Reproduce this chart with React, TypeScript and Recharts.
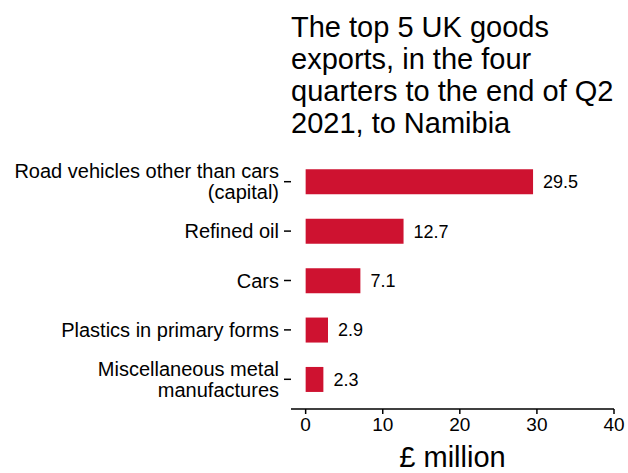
import React from 'react';
import { BarChart, Bar, XAxis, YAxis, LabelList } from 'recharts';

const categories = [
  'Road vehicles other than cars\n(capital)',
  'Refined oil',
  'Cars',
  'Plastics in primary forms',
  'Miscellaneous metal\nmanufactures',
];
const values = [29.5, 12.7, 7.1, 2.9, 2.3];
const xTicks = [0, 10, 20, 30, 40];

const data = categories.map((name, i) => ({ name, value: values[i] }));

const FONT = '"Liberation Sans", Arial, sans-serif';

const YTick = (props: any) => {
  const { x, y, payload } = props;
  const lines: string[] = String(payload.value).split('\n');
  const lh = 21;
  const start = y - ((lines.length - 1) * lh) / 2;
  return (
    <text x={x} y={start} textAnchor="end" fontSize={20} fill="#000" fontFamily={FONT} dominantBaseline="central">
      {lines.map((l, i) => (
        <tspan key={i} x={x} y={start + i * lh}>{l}</tspan>
      ))}
    </text>
  );
};

export default function App() {
  return (
    <div style={{ position: 'absolute', left: 0, top: 0, width: 628, height: 473, background: '#fff', fontFamily: FONT }}>
      <div style={{ position: 'absolute', left: 291, top: 11, fontSize: 29, lineHeight: '32px', color: '#000', whiteSpace: 'nowrap' }}>
        The top 5 UK goods<br />exports, in the four<br />quarters to the end of Q2<br />2021, to Namibia
      </div>
      <BarChart
        width={628}
        height={473}
        data={data}
        layout="vertical"
        margin={{ top: 157, right: 14, bottom: 4, left: 0 }}
        barCategoryGap="25%"
      >
        <XAxis
          type="number"
          domain={[-1.9, 40]}
          ticks={xTicks}
          allowDataOverflow
          height={60}
          tickSize={5}
          tickMargin={4}
          axisLine={{ stroke: '#000', strokeWidth: 1.5 }}
          tickLine={{ stroke: '#000', strokeWidth: 1.5 }}
          tick={{ fill: '#000', fontSize: 19, fontFamily: FONT }}
          label={{ value: '£ million', position: 'insideBottom', offset: 2, fill: '#000', fontSize: 29, fontFamily: FONT }}
        />
        <YAxis
          type="category"
          dataKey="name"
          width={291}
          axisLine={false}
          tickSize={7}
          tickMargin={5}
          padding={{ top: 0, bottom: 5 }}
          tickLine={{ stroke: '#000', strokeWidth: 1.5 }}
          tick={<YTick />}
          interval={0}
        />
        <Bar dataKey="value" fill="#CE1230" isAnimationActive={false}>
          <LabelList dataKey="value" position="right" offset={10} fill="#000" fontSize={18} fontFamily={FONT} />
        </Bar>
      </BarChart>
    </div>
  );
}
